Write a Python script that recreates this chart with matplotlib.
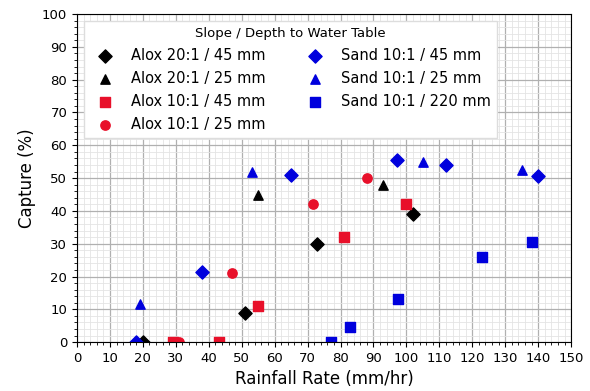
import matplotlib.pyplot as plt
from matplotlib.ticker import MultipleLocator

# === Data: rainfall rate (mm/hr) vs capture (%) ===
alox20_45_x = [20, 51, 73, 102]
alox20_45_y = [0, 9, 30, 39]
alox20_25_x = [55, 93]
alox20_25_y = [45, 48]
alox10_45_x = [29, 43, 55, 81, 100]
alox10_45_y = [0, 0, 11, 32, 42]
alox10_25_x = [31, 47, 71.5, 88]
alox10_25_y = [0, 21, 42, 50]
sand10_45_x = [18, 38, 65, 97, 112, 140]
sand10_45_y = [0, 21.5, 51, 55.5, 54, 50.5]
sand10_25_x = [19, 53, 105, 135]
sand10_25_y = [11.5, 52, 55, 52.5]
sand10_220_x = [77, 83, 97.5, 123, 138]
sand10_220_y = [0, 4.5, 13, 26, 30.5]

red = "#e8102a"
blue = "#0000dd"

# === Plot ===
fig, ax = plt.subplots(figsize=(5.9, 3.91), dpi=100)
fig.subplots_adjust(left=0.1305, right=0.968, top=0.964, bottom=0.125)

s = 45
ax.scatter(alox20_45_x, alox20_45_y, marker="D", color="black", s=s, label="Alox 20:1 / 45 mm")
ax.scatter(alox20_25_x, alox20_25_y, marker="^", color="black", s=s, label="Alox 20:1 / 25 mm")
ax.scatter(alox10_45_x, alox10_45_y, marker="s", color=red, s=s, label="Alox 10:1 / 45 mm")
ax.scatter(alox10_25_x, alox10_25_y, marker="o", color=red, s=s, label="Alox 10:1 / 25 mm")
ax.scatter(sand10_45_x, sand10_45_y, marker="D", color=blue, s=s, label="Sand 10:1 / 45 mm")
ax.scatter(sand10_25_x, sand10_25_y, marker="^", color=blue, s=s, label="Sand 10:1 / 25 mm")
ax.scatter(sand10_220_x, sand10_220_y, marker="s", color=blue, s=s, label="Sand 10:1 / 220 mm")

ax.set_xlim(0, 150)
ax.set_ylim(0, 100)
ax.xaxis.set_major_locator(MultipleLocator(10))
ax.yaxis.set_major_locator(MultipleLocator(10))
ax.xaxis.set_minor_locator(MultipleLocator(2))
ax.yaxis.set_minor_locator(MultipleLocator(2))
ax.grid(True, which="major", color="#b0b0b0", lw=0.9)
ax.grid(True, which="minor", color="#e4e4e4", lw=0.6)
ax.set_axisbelow(True)
ax.tick_params(labelsize=9.5)

ax.set_xlabel("Rainfall Rate (mm/hr)", fontsize=12)
ax.set_ylabel("Capture (%)", fontsize=12)

ax.legend(ncol=2, loc="upper left", title="Slope / Depth to Water Table",
          fontsize=10.5, title_fontsize=9.5, framealpha=1, edgecolor="#dddddd",
          fancybox=False, columnspacing=2.4, handletextpad=0.8,
          labelspacing=0.55, borderaxespad=0.5, scatterpoints=1)

plt.savefig("out.png")
